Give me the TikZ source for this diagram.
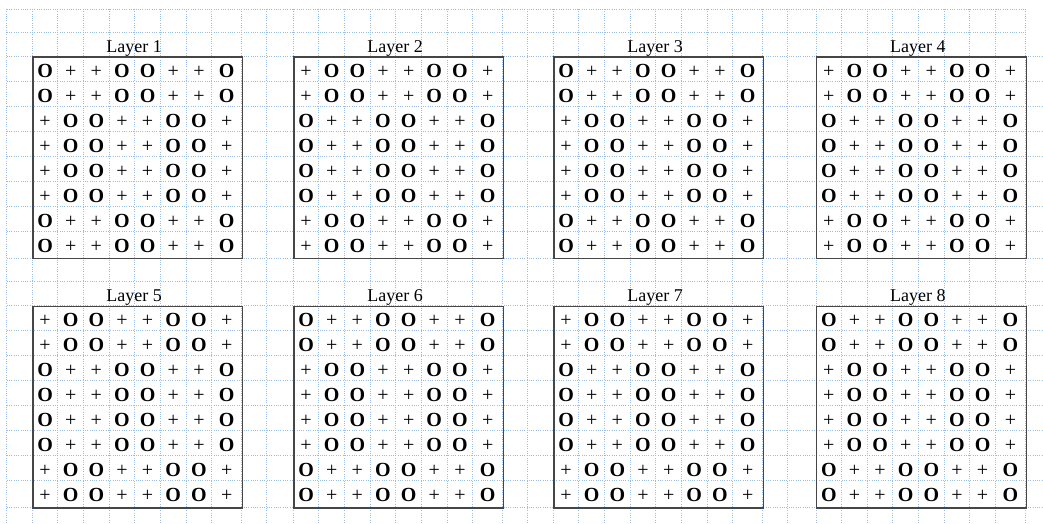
\documentclass[tikz,border=0pt]{standalone}
\usepackage{fontspec}
\setmainfont{Liberation Serif}
\usetikzlibrary{positioning}
\definecolor{guideblue}{RGB}{150,190,230}
\definecolor{framegray}{RGB}{70,70,70}

\begin{document}
\begin{tikzpicture}[
  x=1pt, y=-1pt, font=\fontsize{18}{20}\selectfont,
  guide/.style={guideblue, line width=0.9pt, dash pattern=on 0.9pt off 1.4pt},
  layerbox/.style={draw=framegray, line width=1.3pt, minimum width=209.5pt,
                   minimum height=201.5pt, anchor=north west, inner sep=0pt},
  layertitle/.style={anchor=base, inner sep=0pt},
  cellmark/.style={anchor=base, inner sep=0pt, font=\fontsize{20}{22}\selectfont},
]
  \useasboundingbox (0,0) rectangle (1043,524);

  % dotted guide grid
  \foreach \gy in {9,32}
    \draw[guide] (6.7,\gy) -- (1025,\gy);
  \foreach \by in {56.5,305.7} {
    \foreach \j in {0,...,7}
      \draw[guide] (6.7,\by+25*\j) -- (1043,\by+25*\j);
    \draw[guide] (6.7,\by+201.5) -- (1043,\by+201.5);
  }
  \draw[guide] (6.7,281.5) -- (1043,281.5);
  \draw[guide] (6.7,9) -- (6.7,524);
  \foreach \bx in {32.3,293.3,553.3,816} {
    \foreach \i in {0,...,7}
      \draw[guide] (\bx+25.63*\i,9) -- (\bx+25.63*\i,524);
    \draw[guide] (\bx+209.5,9) -- (\bx+209.5,524);
  }
  \foreach \bx in {32.3,293.3,553.3}
    \draw[guide] (\bx+234.6,9) -- (\bx+234.6,524);

  % layers
  \foreach \n/\bx/\by/\flip in {1/32.3/56.5/0, 2/293.3/56.5/1, 3/553.3/56.5/0,
      4/816/56.5/1, 5/32.3/305.7/1, 6/293.3/305.7/0, 7/553.3/305.7/1, 8/816/305.7/0} {
    \node[layerbox] (box\n) at (\bx,\by) {};
    \node[layertitle] (title\n) at ([xshift=-3.5pt, yshift=3.8pt]box\n.north) {Layer \n};
    \foreach \j in {0,...,7} {
      \foreach \i in {0,...,7} {
        \pgfmathtruncatemacro\pc{mod(\i+1,4)<2}
        \pgfmathtruncatemacro\pr{(\j<2)||(\j>5)}
        \pgfmathtruncatemacro\isO{mod(\pc+\pr+\flip,2)==0}
        \pgfmathsetmacro\cx{\i<7 ? 25.63*(\i+0.5) : 194.4}
        \ifnum\isO=1 \def\cellsym{\textbf{O}}\else \def\cellsym{+}\fi
        \node[cellmark] (L\n-\j-\i) at (\bx+\cx,\by+21+25*\j) {\cellsym};
      }
    }
  }
\end{tikzpicture}
\end{document}
